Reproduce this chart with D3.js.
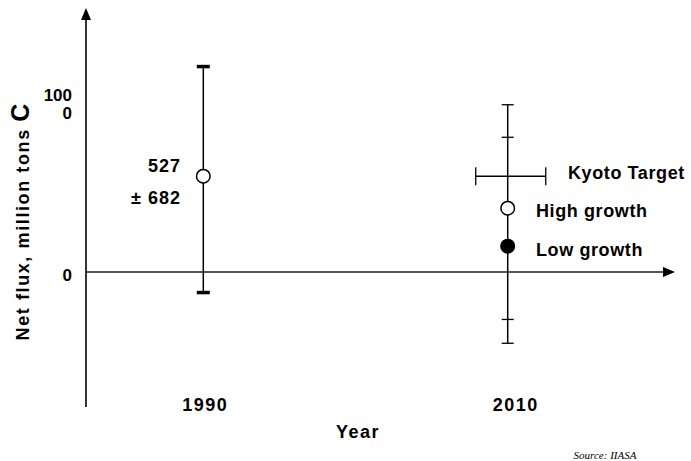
<!DOCTYPE html>
<html>
<head>
<meta charset="utf-8">
<script src="https://cdn.jsdelivr.net/npm/d3@7"></script>
<style>
  html, body { margin: 0; padding: 0; background: #fff; }
  svg { display: block; }
  text { font-family: "Liberation Sans", Arial, sans-serif; font-weight: bold; fill: #000; }
</style>
</head>
<body>
<div id="chart"></div>
<script>
// ---- Data ----
const years = [1990, 2010];
const yearLabels = ["1990", "2010"];
const yTickValues = [0, 1000];
const yTickLabels = [["0"], ["100", "0"]];

// 1990 estimate: mean and error-bar ends
const est1990 = { year: 1990, mean: 527, low: -113, high: 1130 };
const est1990Label = ["527", "± 682"];

// 2010 projection range: outer caps and inner ticks
const range2010 = { year: 2010, low: -392, high: 920, innerLow: -261, innerHigh: 741 };

// 2010 points
const pointNames = ["Kyoto Target", "High growth", "Low growth"];
const pointValues = [527, 351, 142];
const pointKinds = ["target", "open", "filled"];
const kyotoYears = [2007.9, 2012.5];

// ---- Layout ----
const W = 691, H = 461;
const svg = d3.select("#chart").append("svg").attr("width", W).attr("height", H);

const x = d3.scaleLinear().domain([1990, 2010]).range([203.3, 507.7]);
const y = d3.scaleLinear().domain([0, 1000]).range([272, 90.2]);

const axisX0 = 86, axisYBottom = 407, axisYTop = 8, axisXRight = 675;

// y axis line + arrow
svg.append("line").attr("x1", axisX0).attr("x2", axisX0)
  .attr("y1", axisYBottom).attr("y2", axisYTop + 10)
  .attr("stroke", "#000").attr("stroke-width", 1.6);
svg.append("path")
  .attr("d", `M${axisX0},${axisYTop} L${axisX0 - 5},${axisYTop + 12} L${axisX0 + 5},${axisYTop + 12} Z`)
  .attr("fill", "#000");

// x axis (zero line) + arrow
svg.append("line").attr("x1", axisX0).attr("x2", axisXRight - 10)
  .attr("y1", y(0)).attr("y2", y(0))
  .attr("stroke", "#222").attr("stroke-width", 1.6);
svg.append("path")
  .attr("d", `M${axisXRight},${y(0)} L${axisXRight - 12},${y(0) - 5} L${axisXRight - 12},${y(0) + 5} Z`)
  .attr("fill", "#000");

// y tick labels
const tickOffsets = [3, 14];
yTickValues.forEach((v, i) => {
  const lines = yTickLabels[i];
  const t = svg.append("text")
    .attr("x", 72).attr("text-anchor", "end")
    .style("font-size", "17px");
  const lh = 18;
  const y0 = y(v) + tickOffsets[i] - (lines.length - 1) * lh / 2 + 6;
  lines.forEach((l, j) => {
    t.append("tspan").attr("x", 72).attr("y", y0 + j * lh).text(l);
  });
});

// x tick labels
const labelDx = [2, 8];
years.forEach((yr, i) => {
  svg.append("text")
    .attr("x", x(yr) + labelDx[i]).attr("y", 411)
    .attr("text-anchor", "middle")
    .style("font-size", "18px").style("letter-spacing", "1.5px")
    .text(yearLabels[i]);
});

// axis titles
svg.append("text")
  .attr("x", 358).attr("y", 438).attr("text-anchor", "middle")
  .style("font-size", "18px").style("letter-spacing", "1.5px")
  .text("Year");

const yt = svg.append("text")
  .attr("transform", "translate(29,222) rotate(-90)")
  .attr("text-anchor", "middle")
  .style("font-size", "18px").style("letter-spacing", "1.6px");
yt.append("tspan").text("Net flux, million tons ");
yt.append("tspan").style("font-size", "25px").style("letter-spacing", "0px").text("C");

// source
svg.append("text")
  .attr("x", 605).attr("y", 459).attr("text-anchor", "middle")
  .style("font-family", "'Liberation Serif', 'Times New Roman', serif")
  .style("font-style", "italic").style("font-weight", "normal")
  .style("font-size", "11px")
  .text("Source: IIASA");

// ---- 1990 error bar ----
const cx90 = x(est1990.year);
svg.append("line").attr("x1", cx90).attr("x2", cx90)
  .attr("y1", y(est1990.high)).attr("y2", y(est1990.low))
  .attr("stroke", "#000").attr("stroke-width", 1.5);
[est1990.high, est1990.low].forEach(v => {
  svg.append("line").attr("x1", cx90 - 6.5).attr("x2", cx90 + 6.5)
    .attr("y1", y(v)).attr("y2", y(v))
    .attr("stroke", "#000").attr("stroke-width", 3.5);
});
svg.append("circle").attr("cx", cx90).attr("cy", y(est1990.mean)).attr("r", 6.8)
  .attr("fill", "#fff").attr("stroke", "#000").attr("stroke-width", 1.5);
est1990Label.forEach((l, i) => {
  svg.append("text")
    .attr("x", 181).attr("y", y(est1990.mean) - 4 + i * 32)
    .attr("text-anchor", "end")
    .style("font-size", "18px").style("letter-spacing", "1px")
    .text(l);
});

// ---- 2010 range ----
const cx10 = x(range2010.year);
svg.append("line").attr("x1", cx10).attr("x2", cx10)
  .attr("y1", y(range2010.high)).attr("y2", y(range2010.low))
  .attr("stroke", "#000").attr("stroke-width", 1.5);
[range2010.high, range2010.low, range2010.innerHigh, range2010.innerLow].forEach(v => {
  svg.append("line").attr("x1", cx10 - 6).attr("x2", cx10 + 6)
    .attr("y1", y(v)).attr("y2", y(v))
    .attr("stroke", "#000").attr("stroke-width", 1.3);
});

// Kyoto target bar
const ky = y(pointValues[0]);
svg.append("line").attr("x1", x(kyotoYears[0])).attr("x2", x(kyotoYears[1]))
  .attr("y1", ky).attr("y2", ky).attr("stroke", "#000").attr("stroke-width", 1.5);
kyotoYears.forEach(k => {
  svg.append("line").attr("x1", x(k)).attr("x2", x(k))
    .attr("y1", ky - 9).attr("y2", ky + 9)
    .attr("stroke", "#000").attr("stroke-width", 1.3);
});

// points
pointValues.forEach((v, i) => {
  if (pointKinds[i] === "target") return;
  svg.append("circle").attr("cx", cx10).attr("cy", y(v)).attr("r", 6.8)
    .attr("fill", pointKinds[i] === "filled" ? "#000" : "#fff")
    .attr("stroke", "#000").attr("stroke-width", 1.5);
});

// point labels
const labelX = [568, 536, 536];
const labelDy = [3, 9, 10];
pointNames.forEach((n, i) => {
  svg.append("text")
    .attr("x", labelX[i]).attr("y", y(pointValues[i]) + labelDy[i])
    .style("font-size", "18px").style("letter-spacing", "0.6px")
    .text(n);
});
</script>
</body>
</html>
